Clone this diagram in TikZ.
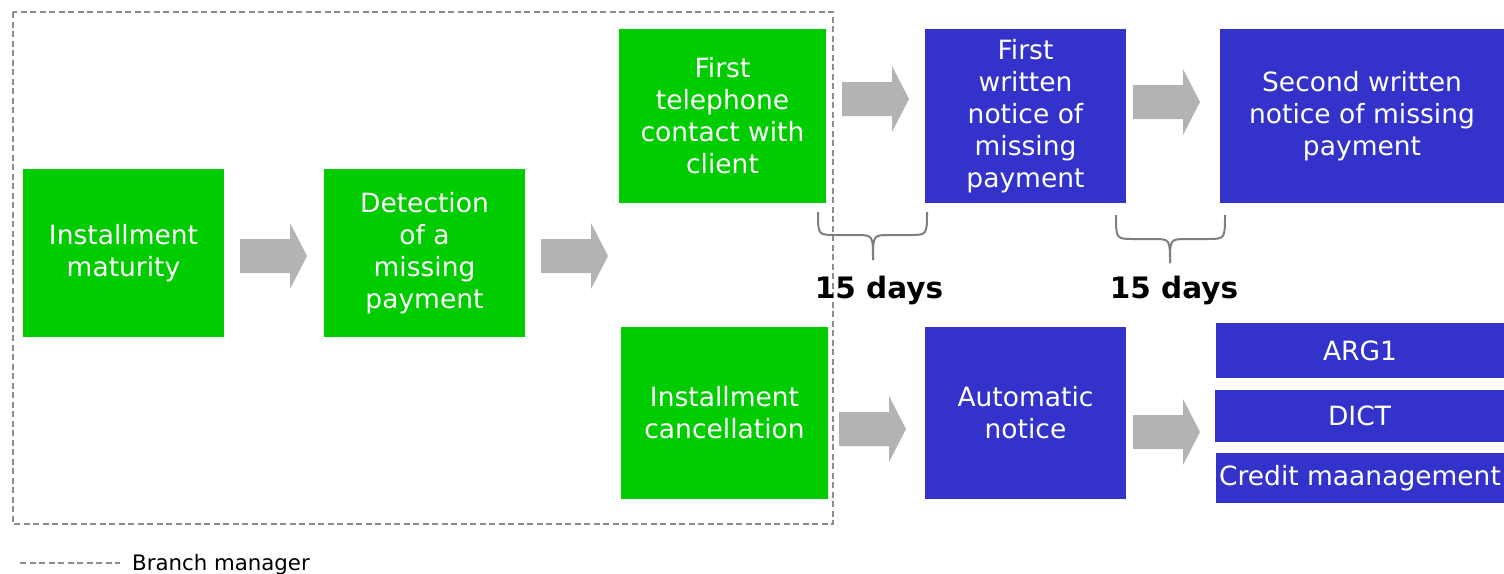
\documentclass[tikz,border=0pt]{standalone}
\usepackage{fontspec}
\setmainfont{DejaVu Sans}
\definecolor{bgreen}{HTML}{00CC00}
\definecolor{bblue}{HTML}{3333CC}
\definecolor{agray}{HTML}{B3B3B3}
\definecolor{dgray}{HTML}{8C8C8C}
\definecolor{brgray}{HTML}{7F7F7F}
\tikzset{
  box/.style={inner sep=0pt, align=center, text=white, font=\fontsize{26.5}{32}\selectfont},
  gbox/.style={box, fill=bgreen},
  bbox/.style={box, fill=bblue},
  dashline/.style={draw=dgray, line width=1.5pt, dash pattern=on 6pt off 3.5pt},
  bracestyle/.style={draw=brgray, line width=2pt},
  dayslabel/.style={font=\bfseries\fontsize{29.5}{32}\selectfont, inner sep=0pt},
}
\newcommand\grayarrow[1]{\fill[agray] (#1) ++(-33.5,-17) -- ++(50,0) -- ++(0,-16) -- ++(17,33) -- ++(-17,33) -- ++(0,-16) -- ++(-50,0) -- cycle;}
\begin{document}
\begin{tikzpicture}[x=1pt,y=-1pt]
\useasboundingbox (0,0) rectangle (1504,573);
% branch manager area
\draw[dashline] (13,12) rectangle (833,524);
% green boxes
\node[gbox, minimum width=201pt, minimum height=168pt] (inst) at (123.5,253) {Installment\\maturity};
\node[gbox, minimum width=201pt, minimum height=168pt] (detect) at (424.5,253) {Detection\\of a\\missing\\payment};
\node[gbox, minimum width=207pt, minimum height=174pt] (phone) at (722.5,116) {First\\telephone\\contact with\\client};
\node[gbox, minimum width=207pt, minimum height=172pt] (cancel) at (724.5,413) {Installment\\cancellation};
% blue boxes
\node[bbox, minimum width=201pt, minimum height=174pt] (first) at (1025.5,116) {First\\written\\notice of\\missing\\payment};
\node[bbox, minimum width=284pt, minimum height=174pt] (second) at (1362,116) {Second written\\notice of missing\\payment};
\node[bbox, minimum width=201pt, minimum height=172pt] (auto) at (1025.5,413) {Automatic\\notice};
\node[bbox, minimum width=288pt, minimum height=55pt] (arg) at (1360,350.5) {ARG1};
\node[bbox, minimum width=289pt, minimum height=52pt] (dict) at (1359.5,416) {DICT};
\node[bbox, minimum width=288pt, minimum height=50pt] (credit) at (1360,478) {Credit maanagement};
% block arrows
\grayarrow{273.5,256}
\grayarrow{574.5,256}
\grayarrow{875.5,99}
\grayarrow{1166.5,102}
\grayarrow{872.5,429}
\grayarrow{1166.5,432}
% braces
\coordinate (b1l) at (818,212);
\coordinate (b1r) at (927,212);
\coordinate (b1t) at (873,260);
\draw[bracestyle] (b1l) .. controls (818,235) and (818,235) .. (836,235) -- (856,235) .. controls (873,235) and (873,235) .. (b1t);
\draw[bracestyle] (b1r) .. controls (927,235) and (927,235) .. (909,235) -- (890,235) .. controls (873,235) and (873,235) .. (b1t);
\coordinate (b2l) at (1116,215);
\coordinate (b2r) at (1225,215);
\coordinate (b2t) at (1170,263);
\draw[bracestyle] (b2l) .. controls (1116,239) and (1116,239) .. (1134,239) -- (1153,239) .. controls (1170,239) and (1170,239) .. (b2t);
\draw[bracestyle] (b2r) .. controls (1225,239) and (1225,239) .. (1207,239) -- (1187,239) .. controls (1170,239) and (1170,239) .. (b2t);
\node[dayslabel, anchor=base] (d1) at (879,298) {15 days};
\node[dayslabel, anchor=base] (d2) at (1174,298) {15 days};
% legend
\coordinate (lg1) at (20,563);
\coordinate (lg2) at (120,563);
\draw[dashline] (lg1) -- (lg2);
\node[anchor=base west, inner sep=0pt, font=\fontsize{21.3}{24}\selectfont] (leg) at (132,570) {Branch manager};
\end{tikzpicture}
\end{document}
